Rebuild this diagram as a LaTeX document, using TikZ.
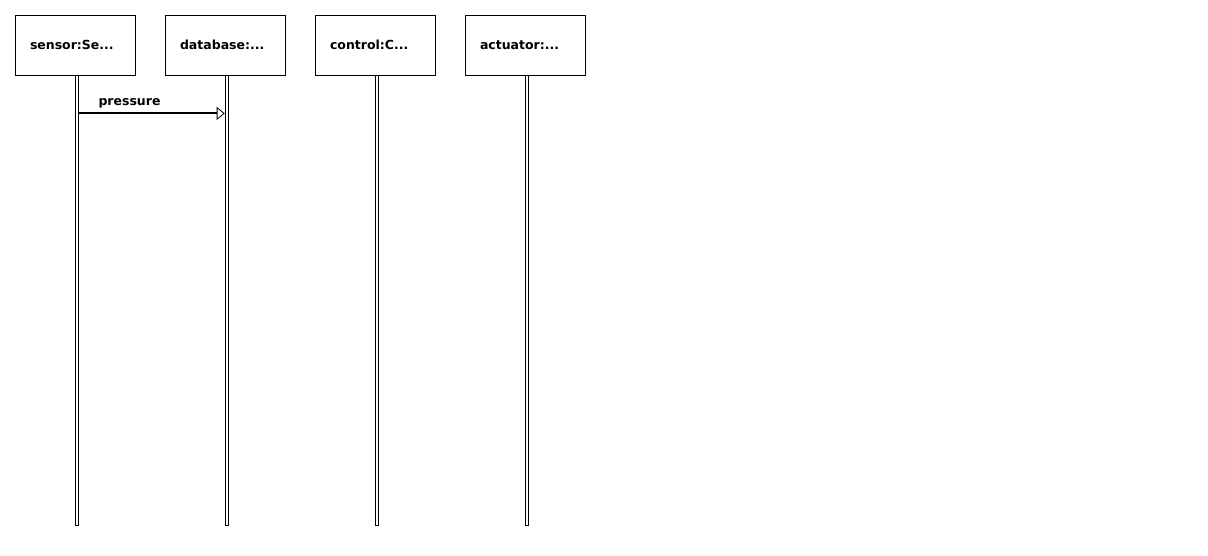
\documentclass[tikz,border=0pt]{standalone}
\usepackage{fontspec}
\setmainfont{DejaVu Sans}
\usetikzlibrary{arrows.meta, positioning, calc}

\begin{document}
\begin{tikzpicture}[x=1pt, y=-1pt, font=\bfseries\fontsize{12.5}{15}\selectfont]
  % Define constants
  \def\boxheight{60}
  \def\lifelength{450}

  % Styles for objects, lifelines and messages
  \tikzset{
    objbox/.style={draw, line width=0.8pt, minimum height=\boxheight pt,
      text width=90pt, inner xsep=15pt, inner ysep=0pt, align=left},
    lifeline/.style={draw, line width=0.8pt, minimum width=2.8pt, inner sep=0pt,
      minimum height=\lifelength pt, xshift=1.5pt},
    message/.style={line width=2pt,
      -{Triangle[open, length=8pt, width=13pt, line width=0.8pt]}},
    msglabel/.style={inner sep=0pt}
  }

  % Fix the page to the reference size
  \useasboundingbox[fill=white] (0,0) rectangle (1208,555);

  % Object boxes along the top
  \node[objbox] (sensor)   at (75,45)  {sensor:Se...};
  \node[objbox] (database) at (225,45) {database:...};
  \node[objbox] (control)  at (375,45) {control:C...};
  \node[objbox] (actuator) at (525,45) {actuator:...};

  % Lifelines hanging below each box
  \node[lifeline, below=0pt of sensor]   (sensorLife)   {};
  \node[lifeline, below=0pt of database] (databaseLife) {};
  \node[lifeline, below=0pt of control]  (controlLife)  {};
  \node[lifeline, below=0pt of actuator] (actuatorLife) {};

  % Message from sensor to database
  \coordinate (msgstart) at ($(sensorLife.north east) + (0,38)$);
  \coordinate (msgend)   at ($(databaseLife.north west) + (0,38)$);
  \draw[message] (msgstart) -- (msgend);
  \node[msglabel, anchor=base west] (pressure) at ($(msgstart) + (20,-8)$) {pressure};

\end{tikzpicture}
\end{document}
